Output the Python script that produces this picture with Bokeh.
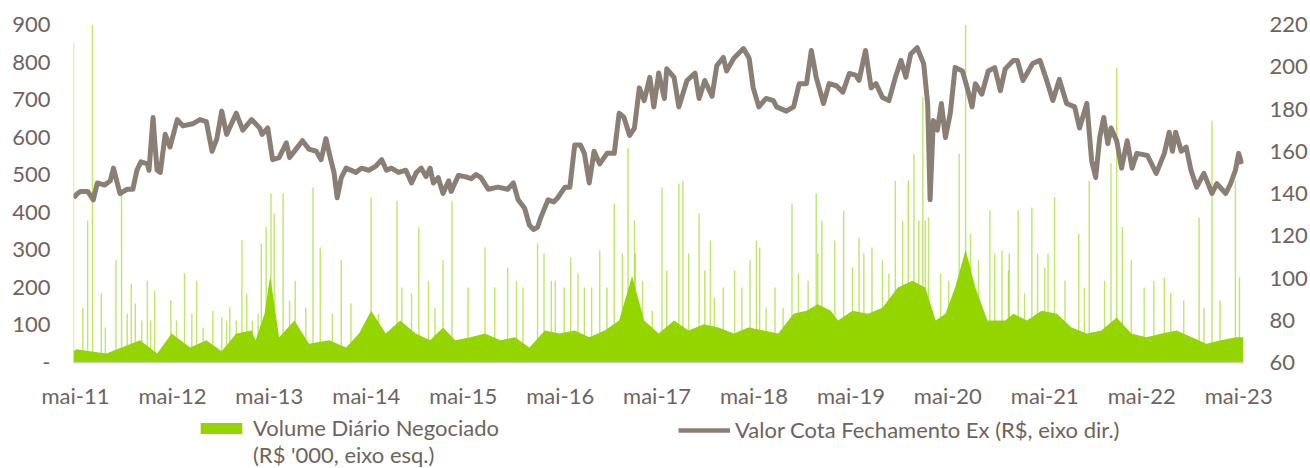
from bokeh.plotting import figure
from bokeh.layouts import column
from bokeh.models import Range1d, LinearAxis, FixedTicker, Legend, LegendItem, ColumnDataSource
from bokeh.embed import file_html
from bokeh.resources import INLINE

# x values: months since May 2011
tick_months = [0, 12, 24, 36, 48, 60, 72, 84, 96, 108, 120, 132, 144]
tick_labels = ["mai-11", "mai-12", "mai-13", "mai-14", "mai-15", "mai-16", "mai-17",
               "mai-18", "mai-19", "mai-20", "mai-21", "mai-22", "mai-23"]

# Valor Cota Fechamento Ex (R$)
price_t = [-0.25, 0.25, 0.6, 1.5, 2.2, 2.7, 3.6, 4.3, 4.7, 5.5, 6.4, 7.1, 7.6, 8.1, 8.9, 9.1, 9.6, 9.8,
           10.1, 10.5, 11.1, 11.7, 12.6, 13.3, 14.5, 15.4, 16.2, 16.9, 17.5, 18.1, 18.7, 19.9, 20.7,
           21.8, 22.8, 23.1, 23.8, 24.4, 25.2, 26.1, 26.5, 27.3, 28.1, 28.9, 29.8, 30.4, 31.0, 31.6,
           32.0, 32.4, 32.9, 33.5, 34.7, 35.4, 36.3, 37.2, 37.9, 38.5, 39.1, 40.0, 40.9, 41.6, 42.2,
           42.8, 43.4, 43.9, 44.3, 44.9, 45.5, 46.2, 46.5, 47.4, 48.2, 49.0, 49.6, 50.2, 51.1, 52.3,
           53.5, 54.2, 54.8, 55.6, 56.2, 56.7, 57.2, 57.6, 58.5, 59.2, 59.7, 60.6, 61.2, 61.8, 62.5,
           63.0, 63.6, 64.2, 64.9, 65.8, 66.7, 67.3, 67.9, 68.6, 69.2, 69.8, 70.4, 71.1, 71.6, 72.2,
           72.9, 73.2, 74.1, 74.7, 75.7, 76.7, 77.2, 77.9, 78.8, 79.4, 80.2, 80.6, 81.5, 82.7, 83.4,
           83.9, 84.6, 85.5, 86.4, 86.8, 88.0, 88.9, 89.6, 90.5, 91.1, 91.7, 92.6, 93.3, 94.2, 95.0,
           95.8, 96.6, 97.0, 97.8, 98.5, 99.1, 99.9, 100.7, 101.5, 102.2, 102.8, 103.4, 104.2, 105.0,
           105.5, 105.8, 106.2, 106.7, 107.2, 107.7, 108.3, 108.9, 109.8, 110.4, 111.0, 111.4, 112.2,
           113.0, 113.8, 114.5, 115.1, 116.1, 116.6, 117.3, 118.5, 119.4, 120.2, 121.0, 121.8, 122.7,
           123.7, 124.3, 125.2, 125.8, 126.3, 126.8, 127.3, 127.8, 128.2, 128.9, 129.5, 130.2, 130.8,
           131.4, 132.7, 133.8, 134.8, 135.4, 135.8, 136.2, 136.9, 137.5, 138.1, 138.8, 139.7, 140.7,
           141.3, 142.4, 143.0, 143.6, 144.0, 144.4]
price = [138, 140, 141, 141, 137, 145, 144, 146, 152, 140, 142, 142, 151, 155, 154, 151, 176, 165,
         151, 150, 168, 162, 175, 172, 173, 175, 174, 160, 166, 179, 168, 178, 170,
         175, 171, 168, 171, 156, 157, 164, 157, 161, 165, 161, 160, 156, 166, 156,
         150, 138, 147.5, 152, 150, 152, 151, 153, 156, 151, 152, 150, 151, 145, 150,
         152, 148, 152, 145, 147.5, 140, 146, 141, 148.5, 148, 147, 149, 147.5, 142, 143,
         142, 145, 137, 133, 125, 123, 124, 128.6, 137, 136, 138, 143, 143, 163, 163,
         159, 145, 160, 154, 159, 159, 178, 176, 167.5, 171, 190, 184, 195, 181, 197,
         185, 199, 195, 181, 193.5, 197, 185, 193.5, 186, 200.6, 204.4, 198, 204, 208.6, 204,
         190, 181, 185, 184, 181, 179, 181, 192, 192, 207.7, 195, 182.6, 192, 191, 188,
         196.8, 196, 193.5, 207.7, 190, 192, 185.5, 184, 195, 203, 195, 206, 209, 201.5,
         182.6, 137, 174.6, 170, 182.6, 166.5, 178, 199.6, 198, 190, 181, 192, 187,
         198, 199.6, 188.7, 199, 203, 203, 193.5, 201.5, 203, 194, 184, 194, 182.6,
         181, 171, 182.6, 155.6, 147.6, 166.5, 176, 163.6, 171, 165, 152, 165, 152,
         159, 158, 149.5, 159, 169, 160, 169, 160, 162, 151, 143, 149.5, 140,
         144.7, 140, 144.7, 151, 159, 154]

# Volume Diario Negociado (R$ '000) - typical daily level
vol_base_t = [-0.25, 0.1, 1.8, 3.8, 5.7, 8.0, 10.1, 11.9, 14.2, 16.2, 18.1, 19.9, 21.8, 22.3, 23.4, 24.1,
              25.2, 27.1, 28.9, 31.4, 33.5, 35.1, 36.6, 38.4, 40.2, 42.1, 43.9, 45.5, 47.0, 48.9,
              50.7, 52.6, 54.4, 56.2, 58.1, 59.9, 61.8, 63.6, 65.5, 67.3, 68.9, 70.4, 72.2, 74.1,
              75.9, 77.8, 79.6, 81.5, 83.3, 85.2, 87.0, 88.9, 90.5, 91.9, 93.5, 94.4, 96.2, 98.1,
              99.9, 101.8, 103.6, 105.2, 106.5, 107.7, 108.9, 110.2, 111.4, 112.9, 115.1, 116.1,
              117.8, 119.6, 121.5, 123.3, 125.2, 127.0, 128.9, 130.7, 132.6, 134.5, 136.3, 138.2,
              140.0, 141.8, 143.7, 144.6]
vol_base = [30, 35, 30, 24, 40, 59, 24, 77, 40, 59, 30, 77, 85, 59, 130, 230,
            67, 112, 50, 59, 40, 77, 138, 77, 112, 77, 59, 93, 59, 67,
            77, 59, 67, 40, 85, 77, 85, 67, 85, 112, 230, 112, 77, 112,
            85, 102, 93, 77, 93, 85, 77, 130, 138, 155, 138, 112, 138, 130,
            146, 200, 218, 200, 112, 130, 200, 300, 200, 112, 112, 130,
            112, 138, 130, 93, 77, 85, 120, 77, 67, 77, 85, 67,
            50, 59, 67, 67]

# Volume - isolated high-volume days
vol_spike_t = [-0.25, 0.9, 1.5, 2.1, 3.2, 5.0, 5.7, 6.9, 7.4, 8.9, 9.8, 11.8, 13.5, 15.0, 17.0, 18.1,
               19.1, 20.6, 21.2, 23.0, 23.6, 24.2, 24.6, 25.7, 27.2, 29.4, 30.3, 32.9, 34.1, 36.6,
               39.8, 42.5, 43.7, 45.5, 46.6, 50.7, 51.9, 53.5, 57.2, 58.0, 59.4, 61.3, 62.2, 63.9,
               64.9, 66.7, 68.4, 69.2, 70.2, 72.6, 74.7, 75.2, 77.2, 78.6, 81.6, 84.3, 85.5, 88.7,
               89.5, 91.7, 92.4, 95.1, 97.0, 98.6, 100.7, 101.5, 103.1, 103.8, 104.4, 104.9, 105.6,
               109.4, 110.2, 110.8, 113.2, 114.7, 115.6, 116.7, 118.4, 119.1, 120.4, 121.2, 124.2,
               125.5, 128.2, 128.9, 129.6, 130.7, 133.5, 134.8, 139.1, 140.7, 143.6, 144.1]
vol_spike = [850, 146, 378, 900, 184, 272, 450, 210, 157, 218, 192, 165, 237, 218, 138, 120,
             146, 325, 184, 317, 360, 450, 397, 450, 218, 466, 306, 272, 157, 440,
             431, 360, 218, 272, 431, 306, 200, 253, 317, 290, 218, 280, 237, 200,
             298, 423, 572, 378, 218, 466, 476, 484, 397, 325, 245, 325, 146, 423,
             237, 450, 378, 405, 333, 306, 237, 484, 484, 556, 378, 706, 386,
             556, 900, 343, 405, 298, 290, 405, 413, 290, 290, 440, 343,
             484, 530, 785, 360, 272, 218, 226, 386, 644, 484, 226]

# Volume - medium-volume days
vol_mid_t = [3.7, 6.4, 8.2, 9.3, 12.5, 14.4, 15.8, 18.7, 19.9, 21.9, 22.6, 26.5, 28.5, 31.8, 37.5,
             40.4, 41.6, 44.5, 48.6, 54.6, 55.4, 58.9, 60.5, 63.0, 65.8, 67.7, 69.3, 71.4, 73.2,
             75.9, 77.9, 79.1, 80.2, 82.5, 83.5, 84.7, 86.6, 87.6, 90.7, 91.9, 94.0, 96.2, 97.6,
             99.9, 102.4, 105.2, 107.1, 108.1, 111.8, 113.8, 115.5, 117.5, 120.0, 122.5, 124.9,
             127.4, 132.3, 135.6, 137.2, 139.7, 141.7]
vol_mid = [93, 130, 112, 112, 112, 130, 93, 112, 112, 112, 130, 165, 146, 130, 130,
           200, 184, 146, 200, 218, 200, 218, 200, 200, 200, 290, 290, 138, 245,
           290, 245, 174, 200, 200, 272, 306, 200, 146, 218, 290, 325, 253, 290,
           272, 378, 378, 237, 218, 272, 290, 245, 184, 253, 218, 200,
           218, 200, 184, 165, 146, 165]

GREEN = "#94d500"
LINE = "#8b7e75"
TEXT = "#6f635b"
FONT = "Lato"

p = figure(width=1310, height=412, output_backend="svg", toolbar_location=None,
           x_range=Range1d(-0.25, 144.6), y_range=Range1d(0, 900),
           min_border_left=73, min_border_right=62, min_border_top=24, min_border_bottom=50,
           outline_line_color=None)
p.grid.visible = False
p.extra_y_ranges = {"price": Range1d(60, 220)}

src_base = ColumnDataSource(dict(t=vol_base_t, v=vol_base))
r_vol = p.varea(x="t", y1=0, y2="v", source=src_base, fill_color=GREEN)
all_t = vol_spike_t + vol_mid_t
all_v = vol_spike + vol_mid
src_spk = ColumnDataSource(dict(t=all_t, v=all_v, z=[0] * len(all_v)))
p.segment(x0="t", y0="z", x1="t", y1="v", source=src_spk, line_color=GREEN, line_width=1.4, line_alpha=0.6)
src_p = ColumnDataSource(dict(t=price_t, v=price))
r_line = p.line(x="t", y="v", source=src_p, line_color=LINE, line_width=5, y_range_name="price",
                line_join="round")

# axes
xa = p.xaxis[0]
xa.ticker = FixedTicker(ticks=tick_months)
xa.major_label_overrides = {m: l for m, l in zip(tick_months, tick_labels)}
xa.axis_line_color = "#c8c8c8"
xa.axis_line_width = 1.5
xa.major_label_standoff = 19

ya = p.yaxis[0]
ya.ticker = FixedTicker(ticks=list(range(0, 901, 100)))
ya.major_label_overrides = {0: "-"}
ya.axis_line_color = None
ya.major_label_standoff = 23

ra = LinearAxis(y_range_name="price", ticker=FixedTicker(ticks=list(range(60, 221, 20))),
                axis_line_color=None, major_label_standoff=26)
p.add_layout(ra, "right")

for ax in (xa, ya, ra):
    ax.major_label_text_font = FONT
    ax.major_label_text_font_size = "22px"
    ax.major_label_text_color = TEXT
    ax.major_tick_line_color = None
    ax.minor_tick_line_color = None
    ax.major_tick_out = 0
    ax.major_tick_in = 0
    ax.minor_tick_out = 0
    ax.minor_tick_in = 0

# legend strip below the chart (its frame is aligned with the chart frame)
lg = figure(width=1310, height=56, output_backend="svg", toolbar_location=None,
            x_range=Range1d(0, 1), y_range=Range1d(0, 1), min_border=0,
            x_axis_location=None, y_axis_location=None, outline_line_color=None)
lg.grid.visible = False
k_vol = lg.varea(x=[5, 6], y1=[5, 5], y2=[5, 5], fill_color=GREEN)
k_blank = lg.varea(x=[5, 6], y1=[5, 5], y2=[5, 5], fill_alpha=0)
k_line = lg.line(x=[5, 6], y=[5, 5], line_color=LINE, line_width=4.5)

common = dict(glyph_width=52, glyph_height=14, label_text_font=FONT, label_text_font_size="22px",
              label_text_color=TEXT, border_line_color=None, background_fill_alpha=0,
              margin=0, padding=0, label_height=24)
leg_a = Legend(items=[
    LegendItem(label="Volume Diário Negociado", renderers=[k_vol]),
    LegendItem(label="(R$ '000, eixo esq.)", renderers=[k_blank]),
], orientation="vertical", location=(122, 0), label_standoff=6, spacing=-4, **common)
leg_b = Legend(items=[
    LegendItem(label="Valor Cota Fechamento Ex (R$, eixo dir.)", renderers=[k_line]),
], orientation="vertical", location=(605, 25), label_standoff=5, spacing=0, **common)
lg.add_layout(leg_a)
lg.add_layout(leg_b)

open("out.html", "w").write(file_html(column(p, lg), INLINE))
